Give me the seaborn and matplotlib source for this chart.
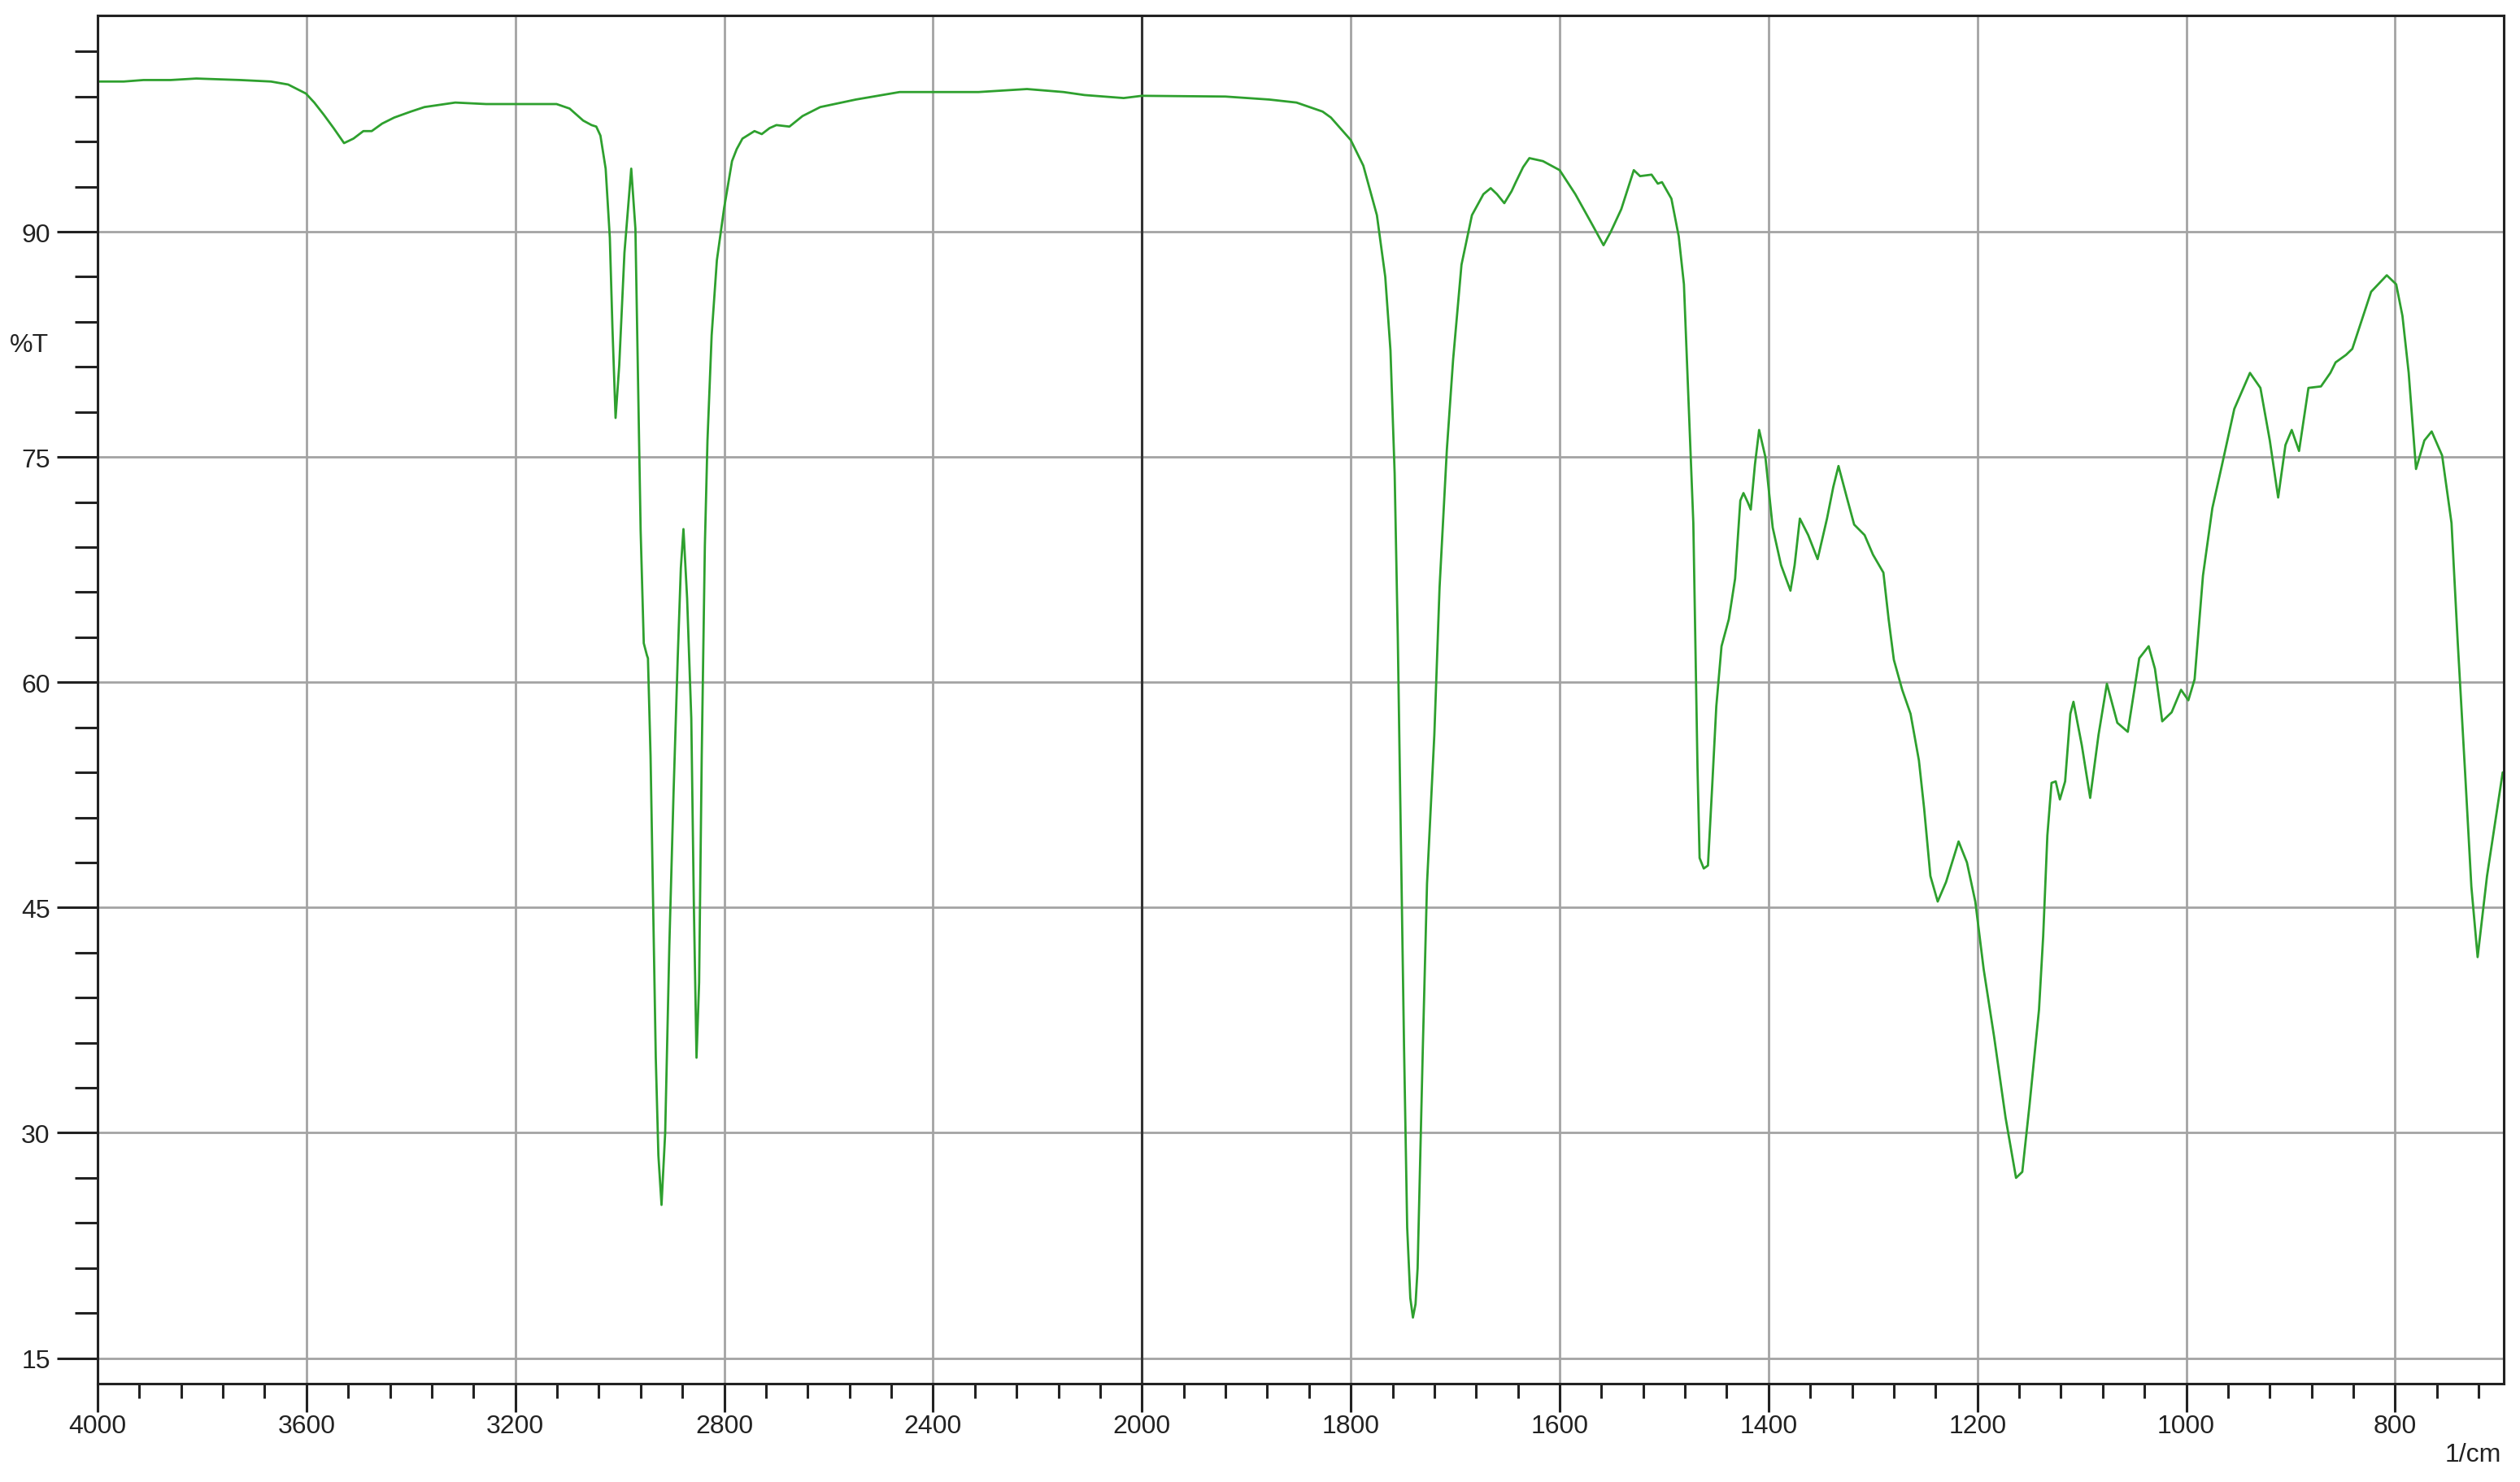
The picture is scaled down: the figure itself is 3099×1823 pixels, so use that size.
import matplotlib
matplotlib.use("Agg")
import matplotlib.pyplot as plt
import numpy as np
import pandas as pd
import seaborn as sns
from matplotlib.ticker import FixedLocator

# IR spectrum (wavenumber in 1/cm, transmittance in %T)
wavenumber = [
    4000, 3950, 3912, 3860, 3811, 3727, 3668, 3635, 3601, 3585, 3567, 3548, 3528,
    3510, 3491, 3475, 3455, 3432, 3400, 3374, 3315, 3256, 3200, 3121, 3096, 3070,
    3054, 3045, 3037, 3027, 3019, 3014, 3008, 3001, 2991, 2978, 2970, 2965, 2960,
    2954, 2948, 2946, 2941, 2936, 2931, 2926, 2920, 2913, 2905, 2897, 2889, 2883,
    2878, 2871, 2863, 2858, 2853, 2848, 2843, 2837, 2832, 2824, 2814, 2800, 2785,
    2776, 2765, 2742, 2728, 2713, 2700, 2675, 2650, 2616, 2548, 2464, 2400, 2313,
    2220, 2150, 2110, 2035, 2000, 1920, 1878, 1852, 1827, 1819, 1800, 1788, 1775,
    1767, 1762, 1758, 1755, 1752, 1749, 1746, 1743, 1740.5, 1738, 1736, 1731, 1727,
    1720, 1715, 1708, 1702, 1694, 1684, 1673, 1666, 1660, 1653, 1646, 1642, 1635,
    1629, 1616, 1600, 1585, 1569, 1558, 1551, 1541, 1529, 1523, 1512, 1506, 1502,
    1493, 1486, 1481, 1476, 1472, 1469.5, 1468, 1466, 1462, 1458, 1454, 1450, 1445,
    1438, 1432, 1427, 1424, 1420, 1417, 1413, 1409, 1403, 1396, 1388, 1379, 1375,
    1370, 1362, 1353, 1344, 1338, 1333, 1325, 1318, 1308, 1300, 1290, 1285, 1280,
    1272, 1264, 1256, 1251, 1245, 1238, 1230, 1218, 1210, 1202, 1194, 1184, 1173,
    1163, 1157, 1150, 1141, 1137, 1133, 1129, 1125, 1121, 1116, 1111, 1108, 1100,
    1092, 1084, 1076, 1066, 1056, 1045, 1036, 1030, 1023, 1014, 1005, 998, 992,
    984, 975, 966, 954, 939, 929, 920, 912, 905, 899, 892, 883, 871, 862, 857, 847,
    841, 823, 808, 799, 793, 787, 780, 772, 765, 755, 746, 740, 733, 727, 721, 712,
    697,
]
transmittance = [
    100.0, 100.0, 100.1, 100.1, 100.2, 100.1, 100.0, 99.8, 99.2, 98.6, 97.8, 96.9, 95.9,
    96.2, 96.7, 96.7, 97.2, 97.6, 98.0, 98.3, 98.6, 98.5, 98.5, 98.5, 98.2, 97.4,
    97.1, 97.0, 96.4, 94.2, 89.6, 83.6, 77.6, 81.1, 88.6, 94.2, 90.2, 80.1, 70.1,
    62.6, 61.8, 61.6, 55.1, 45.0, 35.0, 28.5, 25.2, 30.0, 42.5, 52.6, 61.6, 67.6,
    70.2, 65.6, 57.6, 45.0, 35.0, 40.0, 55.1, 69.1, 76.1, 83.1, 88.1, 91.6, 94.7,
    95.5, 96.2, 96.7, 96.5, 96.9, 97.1, 97.0, 97.7, 98.3, 98.8, 99.3, 99.3, 99.3,
    99.5, 99.3, 99.1, 98.9, 99.05, 99.0, 98.8, 98.6, 98.0, 97.6, 96.1, 94.4, 91.1,
    87.0, 82.1, 73.9, 63.0, 49.4, 35.7, 23.7, 19.0, 17.7, 18.6, 21.0, 35.7, 46.6,
    56.5, 66.3, 75.5, 81.5, 87.8, 91.1, 92.5, 92.9, 92.5, 91.9, 92.7, 93.3, 94.3,
    94.9, 94.7, 94.1, 92.5, 90.5, 89.1, 90.0, 91.5, 94.1, 93.7, 93.8, 93.2, 93.3,
    92.2, 89.7, 86.5, 77.7, 70.6, 60.5, 54.3, 48.3, 47.6, 47.8, 53.0, 58.4, 62.4,
    64.2, 66.9, 72.1, 72.6, 72.0, 71.5, 74.5, 76.8, 75.0, 70.3, 67.8, 66.1, 67.8,
    70.9, 69.8, 68.2, 70.9, 73.0, 74.4, 72.3, 70.5, 69.8, 68.5, 67.3, 64.2, 61.5,
    59.5, 57.9, 54.8, 51.6, 47.1, 45.4, 46.7, 49.4, 48.0, 45.4, 40.9, 36.4, 31.0,
    27.0, 27.4, 31.9, 38.2, 43.1, 49.8, 53.3, 53.4, 52.2, 53.4, 57.9, 58.7, 55.8,
    52.3, 56.5, 59.9, 57.3, 56.7, 61.6, 62.4, 60.9, 57.4, 58.0, 59.5, 58.8, 60.2,
    67.1, 71.6, 74.4, 78.2, 80.6, 79.6, 76.1, 72.3, 75.8, 76.8, 75.4, 79.6, 79.7,
    80.6, 81.3, 81.8, 82.2, 86.0, 87.1, 86.5, 84.4, 80.6, 74.2, 76.1, 76.7, 75.1,
    70.6, 62.6, 54.0, 46.4, 41.7, 47.1, 54.0,
]

x_major = [4000, 3600, 3200, 2800, 2400, 2000, 1800, 1600, 1400, 1200, 1000, 800]
y_major = [15, 30, 45, 60, 75, 90]

sns.set_style("white")
plt.rcParams['font.family'] = ['Liberation Sans', 'DejaVu Sans']

df = pd.DataFrame({"wn": wavenumber, "T": transmittance})


# scale above 2000 1/cm is compressed by a factor of 2
def forward(x):
    x = np.asarray(x, dtype=float)
    return np.where(x >= 2000, 1000 + (x - 2000) / 2.0, x - 1000)


def inverse(u):
    u = np.asarray(u, dtype=float)
    return np.where(u >= 1000, 2000 + (u - 1000) * 2.0, u + 1000)


fig = plt.figure(figsize=(15.495, 9.12), dpi=200)
ax = fig.add_axes([120 / 3099, 1 - 1703 / 1824, 2959 / 3099, 1683 / 1824])
ax.set_xscale('function', functions=(forward, inverse))

sns.lineplot(data=df, x="wn", y="T", sort=False, estimator=None,
             color='#2ea02e', linewidth=1.0, ax=ax)

ax.set_xlim(4000, 696)
ax.set_ylim(13.3, 104.4)

minor_left = [v for v in np.arange(2080, 4000, 80) if v % 400 != 0]
minor_right = [v for v in np.arange(720, 2000, 40) if v % 200 != 0]
ax.xaxis.set_major_locator(FixedLocator(x_major))
ax.xaxis.set_minor_locator(FixedLocator(minor_left + minor_right))
ax.set_xticklabels([str(v) for v in x_major])
ax.yaxis.set_major_locator(FixedLocator(y_major))
ax.yaxis.set_minor_locator(FixedLocator([v for v in range(15, 104, 3) if v % 15 != 0]))
ax.set_yticklabels([str(v) for v in y_major])

ax.grid(which='major', color='#a3a3a3', linewidth=1.0)
ax.axvline(2000, color='#333333', linewidth=1.1, zorder=1)
ax.set_axisbelow(True)

for s in ax.spines.values():
    s.set_color('#222222')
    s.set_linewidth(1.1)

ax.tick_params(axis='y', which='major', direction='out', length=18, width=1.1,
               color='#222222', labelsize=11.5, pad=3, labelcolor='#222222')
ax.tick_params(axis='y', which='minor', direction='out', length=10, width=1.1,
               color='#222222')
ax.tick_params(axis='x', which='major', direction='out', length=12.5, width=1.1,
               color='#222222', labelsize=11.5, pad=1, labelcolor='#222222')
ax.tick_params(axis='x', which='minor', direction='out', length=6.5, width=1.1,
               color='#222222')
ax.tick_params(left=True, bottom=True, which='both')

ax.set_xlabel('')
ax.set_ylabel('')
fig.text(36 / 3099, 1 - 425 / 1824, '%T', ha='center', va='center',
         fontsize=11.5, color='#222222')
fig.text(3076 / 3099, 1 - 1790 / 1824, '1/cm', ha='right', va='center',
         fontsize=11.5, color='#222222')

fig.savefig('out.png', dpi=200)
